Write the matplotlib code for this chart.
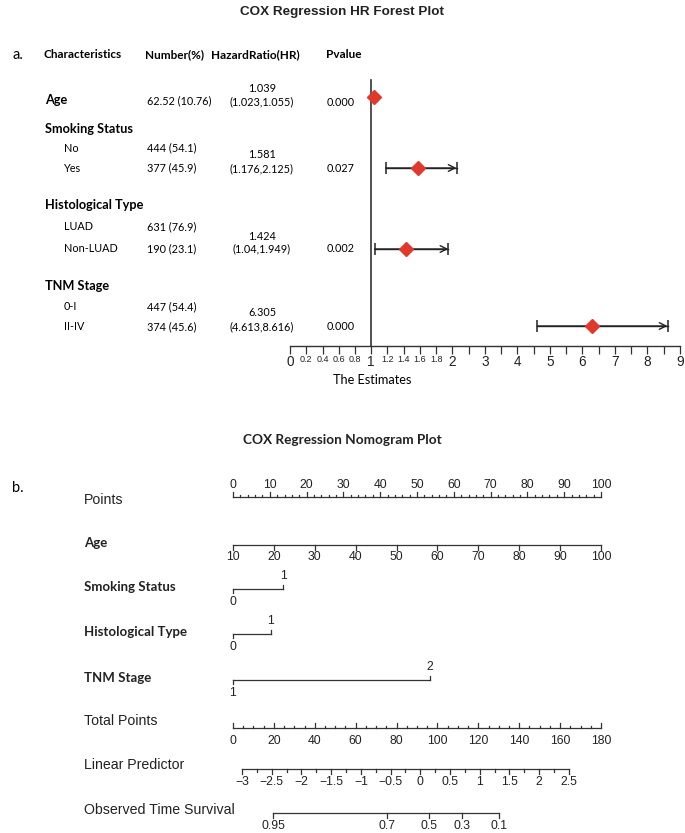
import numpy as np
import matplotlib.pyplot as plt

W, H = 685, 833
fig = plt.figure(figsize=(6.85, 8.33), dpi=100)

def fx(x):
    return x / W

def fy(y):
    return 1 - y / H

SANS = "Liberation Sans"
CAL = "Lato"

# ---------------- forest plot data ----------------
groups = ["Age", "Smoking Status", "Histological Type", "TNM Stage"]
sub_labels = [[], ["No", "Yes"], ["LUAD", "Non-LUAD"], ["0-I", "II-IV"]]
counts = [["62.52 (10.76)"], ["444 (54.1)", "377 (45.9)"],
          ["631 (76.9)", "190 (23.1)"], ["447 (54.4)", "374 (45.6)"]]
hr = [1.039, 1.581, 1.424, 6.305]
ci_low = [1.023, 1.176, 1.04, 4.613]
ci_high = [1.055, 2.125, 1.949, 8.616]
pvals = ["0.000", "0.027", "0.002", "0.000"]
headers = ["Characteristics", "Number(%)", "HazardRatio(HR)", "Pvalue"]
est_ticks = [0, 0.2, 0.4, 0.6, 0.8, 1, 1.2, 1.4, 1.6, 1.8, 2,
             2.5, 3, 3.5, 4, 4.5, 5, 5.5, 6, 6.5, 7, 7.5, 8, 8.5, 9]

# ---------------- nomogram data ----------------
points_ticks = list(range(0, 101, 10))
age_ticks = list(range(10, 101, 10))
smoking_pts = 13.6
histology_pts = 10.3
tnm_pts = 53.5
total_ticks = list(range(0, 181, 20))
lp_ticks = [-3, -2.5, -2, -1.5, -1, -0.5, 0, 0.5, 1, 1.5, 2, 2.5]
lp_total_range = (4.4, 164.3)      # total points at lp = -3 and lp = 2.5
surv_ticks = ["0.95", "0.7", "0.5", "0.3", "0.1"]
surv_total = [19.6, 75.3, 95.9, 112.0, 130.1]

# ================= panel a =================
fig.text(fx(342), fy(12), "COX Regression HR Forest Plot", ha="center", va="center",
         fontsize=9.7, fontweight="bold", family=SANS, color="#222")
fig.text(fx(12), fy(55), "a.", ha="left", va="center", fontsize=10.5, family=CAL)
for h, x in zip(headers, [44, 145, 211, 326]):
    fig.text(fx(x), fy(55), h, ha="left", va="center", fontsize=8.5,
             fontweight="bold", family=CAL)

group_y = [100, 129, 205, 286]
sub_y = [[], [148, 168], [227, 249], [307, 327]]
count_y = [[101], [148, 168], [227, 249], [307, 327]]
hr_text_y = [(88, 102), (154, 169), (237, 249), (313, 327)]
est_y = [97, 168, 249, 326]

for i, g in enumerate(groups):
    fig.text(fx(45), fy(group_y[i]), g, ha="left", va="center", fontsize=9.2,
             fontweight="bold", family=CAL)
    for s, yy in zip(sub_labels[i], sub_y[i]):
        fig.text(fx(64), fy(yy), s, ha="left", va="center", fontsize=7.8, family=CAL)
    for c, yy in zip(counts[i], count_y[i]):
        fig.text(fx(147), fy(yy), c, ha="left", va="center", fontsize=7.8, family=CAL)
    y1, y2 = hr_text_y[i]
    fig.text(fx(262), fy(y1), f"{hr[i]:g}", ha="center", va="center", fontsize=7.8, family=CAL)
    fig.text(fx(262), fy(y2), f"({ci_low[i]:g},{ci_high[i]:g})", ha="center", va="center",
             fontsize=7.8, family=CAL)
    fig.text(fx(327), fy(y2), pvals[i], ha="left", va="center", fontsize=7.8, family=CAL)


def fwd(v):
    v = np.asarray(v, dtype=float)
    return np.where(v <= 2, v * 5, 10 + (v - 2) * 2)


def inv(u):
    u = np.asarray(u, dtype=float)
    return np.where(u <= 10, u / 5, 2 + (u - 10) / 2)


ax = fig.add_axes([fx(290), fy(346), fx(680) - fx(290), (346 - 75) / H])
ax.set_xscale("function", functions=(fwd, inv))
ax.set_xlim(0, 9)
ax.set_ylim(346, 75)
for sp in ["top", "right", "left"]:
    ax.spines[sp].set_visible(False)
ax.spines["bottom"].set_linewidth(1.0)
ax.spines["bottom"].set_color("#333")
ax.set_yticks([])
labels = []
for t in est_ticks:
    if float(t).is_integer():
        labels.append(str(int(t)))
    elif t < 2:
        labels.append(f"{t:g}")
    else:
        labels.append("")
ax.set_xticks(est_ticks, labels)
ax.minorticks_off()
ax.tick_params(axis="x", direction="out", length=6, width=0.9, color="#333", pad=0.5)
for t, lab in zip(est_ticks, ax.get_xticklabels()):
    lab.set_family(SANS)
    lab.set_fontsize(9.8 if float(t).is_integer() else 6.5)
    lab.set_color("#222")
ax.axvline(1, ymin=0, ymax=(346 - 80) / (346 - 75), color="#333", lw=1.2)

for i in range(len(hr)):
    y = est_y[i]
    if fwd(ci_high[i]) - fwd(ci_low[i]) > 0.5:
        ax.plot([ci_low[i], ci_high[i]], [y, y], color="#222", lw=1.0)
        ax.plot([ci_low[i], ci_high[i]], [y, y], ls="none", marker="|", ms=8,
                mew=1.1, color="#222")
        ax.annotate("", xy=(ci_high[i], y), xytext=(ci_low[i], y),
                    arrowprops=dict(arrowstyle="->", color="#222", lw=1.0,
                                    shrinkA=0, shrinkB=0, mutation_scale=12))
ax.plot(hr, est_y, ls="none", marker="D", ms=7.5, color="#e0392b", zorder=5)

fig.text(fx(372), fy(380), "The Estimates", ha="center", va="center", fontsize=9.2, family=CAL)

# ================= panel b =================
fig.text(fx(342), fy(440), "COX Regression Nomogram Plot", ha="center", va="center",
         fontsize=9.8, fontweight="bold", family=CAL, color="#222")
fig.text(fx(12), fy(488), "b.", ha="left", va="center", fontsize=10.5, family=CAL)

axn = fig.add_axes([fx(233), 0, fx(601) - fx(233), 1])
axn.set_xlim(0, 100)
axn.set_ylim(H, 0)
axn.axis("off")

LC = "#333"
LW = 0.9


def hline(x0, x1, y):
    axn.plot([x0, x1], [y, y], color=LC, lw=LW, clip_on=False)


def tick(x, y, ln):
    axn.plot([x, x], [y, y + ln], color=LC, lw=LW, clip_on=False)


def lab(x, y, s, size=8.8):
    axn.text(x, y, s, ha="center", va="center", fontsize=size, family=SANS, color="#222")


def row_label(y, s, bold=False):
    fig.text(fx(84), fy(y), s, ha="left", va="center", fontsize=9.5 if bold else 10.2,
             family=CAL if bold else SANS, fontweight="bold" if bold else "normal",
             color="#222")


# Points
yP = 497
hline(0, 100, yP)
for v in range(0, 101, 2):
    tick(v, yP, -5 if v % 10 == 0 else -2.5)
for v in points_ticks:
    lab(v, 485, str(v))
row_label(500, "Points")

# Age
yA = 545
age_pts = [(a - 10) / 90 * 100 for a in age_ticks]
hline(age_pts[0], age_pts[-1], yA)
for p, a in zip(age_pts, age_ticks):
    tick(p, yA, 5)
    lab(p, 557, str(a))
row_label(543, "Age", bold=True)

# categorical rows
for y, pts, lo_lab, hi_lab, name in [(589, smoking_pts, "0", "1", "Smoking Status"),
                                     (634, histology_pts, "0", "1", "Histological Type"),
                                     (680, tnm_pts, "1", "2", "TNM Stage")]:
    hline(0, pts, y)
    tick(0, y, 4)
    tick(pts, y, -4)
    lab(0, y + 13, lo_lab)
    lab(pts, y - 13, hi_lab)
    row_label(y - 2, name, bold=True)

# Total points
yT = 728
hline(0, 100, yT)
for v in range(0, 181, 5):
    tick(v / 180 * 100, yT, -5 if v % 20 == 0 else -2.5)
for v in total_ticks:
    lab(v / 180 * 100, 741, str(v))
row_label(721, "Total Points")

# Linear predictor
yL = 769
t0, t1 = lp_total_range


def lp_x(lp):
    return (t0 + (lp + 3) / 5.5 * (t1 - t0)) / 180 * 100


hline(lp_x(-3), lp_x(2.5), yL)
for v in np.arange(-3, 2.51, 0.25):
    tick(lp_x(v), yL, 5 if abs(v * 2 - round(v * 2)) < 1e-9 else 2.5)
for v in lp_ticks:
    lab(lp_x(v), 782, f"{v:g}".replace("-", "\u2212"))
row_label(765, "Linear Predictor")

# Survival
yS = 813
sx = [t / 180 * 100 for t in surv_total]
hline(sx[0], sx[-1], yS)
for x, s in zip(sx, surv_ticks):
    tick(x, yS, 5)
    lab(x, 826, s)
row_label(810, "Observed Time Survival")

fig.savefig("out.png", dpi=100)
